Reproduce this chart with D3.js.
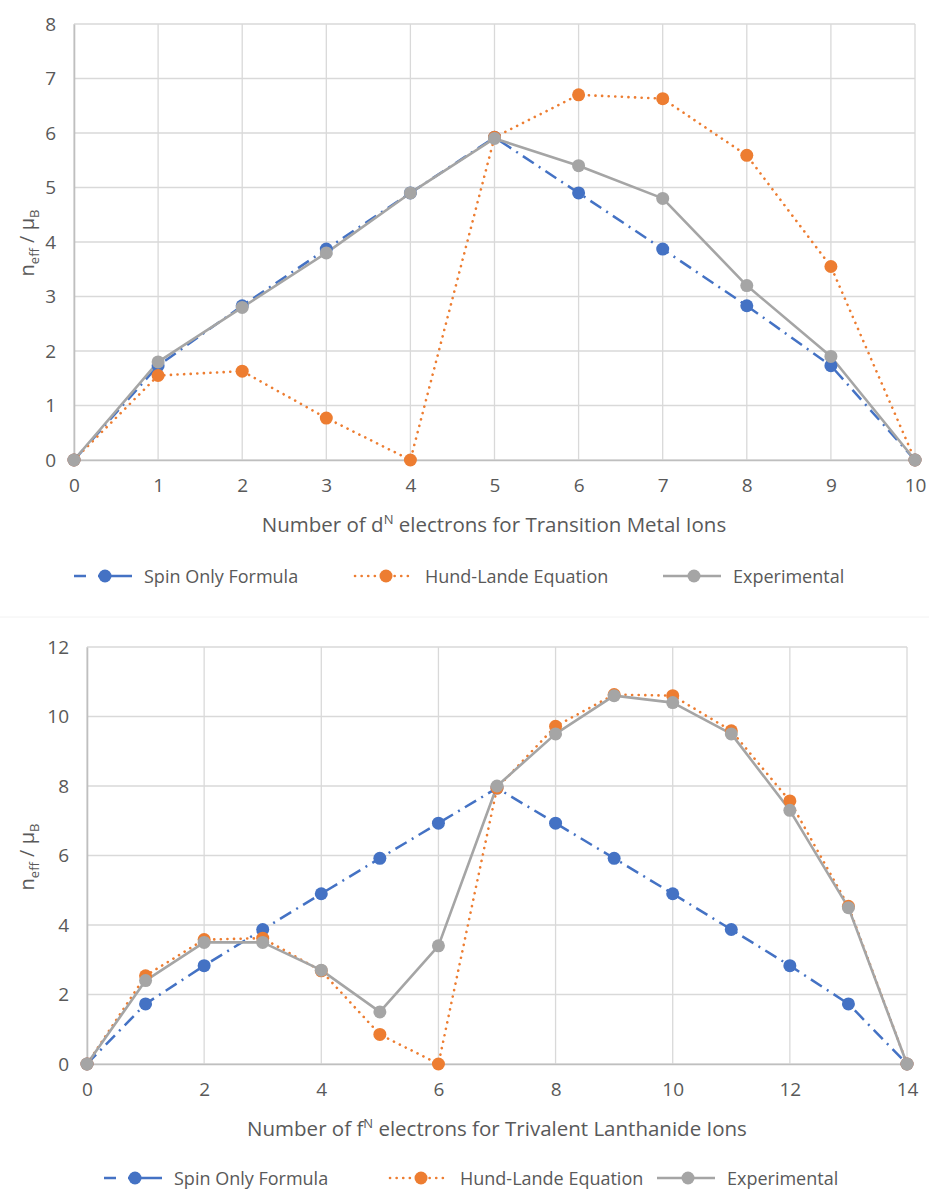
<!DOCTYPE html>
<html>
<head>
<meta charset="utf-8">
<script src="https://cdn.jsdelivr.net/npm/d3@7"></script>
<style>
  body { margin: 0; background: #fff; }
  svg { display: block; font-family: "Open Sans", "Liberation Sans", sans-serif; }
</style>
</head>
<body>
<svg id="chart" width="929" height="1191"></svg>
<script>
// ---- data ----
const dElectrons = d3.range(0, 11);
const dSpinOnly = [0, 1.73, 2.83, 3.87, 4.90, 5.92, 4.90, 3.87, 2.83, 1.73, 0];
const dHundLande = [0, 1.55, 1.63, 0.77, 0, 5.92, 6.70, 6.63, 5.59, 3.55, 0];
const dExperimental = [0, 1.8, 2.8, 3.8, 4.9, 5.9, 5.4, 4.8, 3.2, 1.9, 0];
const dXTicks = d3.range(0, 11);
const dYTicks = d3.range(0, 9);

const fElectrons = d3.range(0, 15);
const fSpinOnly = [0, 1.73, 2.83, 3.87, 4.90, 5.92, 6.93, 7.94, 6.93, 5.92, 4.90, 3.87, 2.83, 1.73, 0];
const fHundLande = [0, 2.54, 3.58, 3.62, 2.68, 0.85, 0, 7.94, 9.72, 10.63, 10.60, 9.59, 7.57, 4.54, 0];
const fExperimental = [0, 2.4, 3.5, 3.5, 2.7, 1.5, 3.4, 8.0, 9.5, 10.6, 10.4, 9.5, 7.3, 4.5, 0];
const fXTicks = d3.range(0, 15, 2);
const fYTicks = d3.range(0, 13, 2);

const seriesNames = ["Spin Only Formula", "Hund-Lande Equation", "Experimental"];

// styles per series
const styles = [
    { color: "#4472C4", dash: "13,6,2,6", cap: "butt", width: 2.5 },
    { color: "#ED7D31", dash: "0.1,6.5", cap: "round", width: 2.6 },
    { color: "#A5A5A5", dash: null, cap: "butt", width: 2.6 }
];

const svg = d3.select("#chart");

function drawChart(opts) {
    const g = svg.append("g").attr("class", "chart-wrapper");

    const x = d3.scaleLinear().domain(opts.xDomain).range([opts.left, opts.right]);
    const y = d3.scaleLinear().domain(opts.yDomain).range([opts.bottom, opts.top]);

    // gridlines
    g.append("g").attr("class", "y-grid")
        .selectAll("line").data(opts.yTicks).enter().append("line")
        .attr("x1", opts.left).attr("x2", opts.right)
        .attr("y1", d => y(d)).attr("y2", d => y(d))
        .attr("stroke", "#d9d9d9").attr("stroke-width", 1.3);
    g.append("g").attr("class", "x-grid")
        .selectAll("line").data(opts.xTicks).enter().append("line")
        .attr("y1", opts.top).attr("y2", opts.bottom)
        .attr("x1", d => x(d)).attr("x2", d => x(d))
        .attr("stroke", "#d9d9d9").attr("stroke-width", 1.3);

    // axes
    const xAxis = d3.axisBottom(x).tickValues(opts.xTicks).tickSize(0).tickPadding(19);
    const yAxis = d3.axisLeft(y).tickValues(opts.yTicks).tickSize(0).tickPadding(18);

    g.append("g").attr("class", "x-axis")
        .attr("transform", `translate(0,${opts.bottom})`)
        .call(xAxis);
    g.append("g").attr("class", "y-axis")
        .attr("transform", `translate(${opts.left},0)`)
        .call(yAxis);

    g.selectAll(".domain").attr("stroke", "#bfbfbf").attr("stroke-width", 1.6);
    g.selectAll(".x-axis text, .y-axis text")
        .attr("fill", "#595959")
        .style("font-size", "19px")
        .style("font-family", "\"Open Sans\", sans-serif");

    // lines
    const line = d3.line().x((d, i) => x(opts.xs[i])).y(d => y(d));
    opts.series.forEach((vals, si) => {
        const st = styles[si];
        g.append("path")
            .datum(vals)
            .attr("fill", "none")
            .attr("stroke", st.color)
            .attr("stroke-width", st.width)
            .attr("stroke-linecap", st.cap)
            .attr("stroke-linejoin", "round")
            .attr("stroke-dasharray", st.dash)
            .attr("d", line);
    });
    opts.series.forEach((vals, si) => {
        const st = styles[si];
        g.append("g").selectAll("circle").data(vals).enter().append("circle")
            .attr("cx", (d, i) => x(opts.xs[i]))
            .attr("cy", d => y(d))
            .attr("r", 6.5)
            .attr("fill", st.color);
    });

    // x title
    const xt = g.append("text")
        .attr("x", opts.xTitleX).attr("y", opts.xTitleY)
        .attr("text-anchor", "middle")
        .attr("fill", "#595959")
        .style("font-size", "20.5px");
    xt.append("tspan").text(opts.xTitle[0]);
    xt.append("tspan").attr("dy", -8).style("font-size", "13px").text("N");
    xt.append("tspan").attr("dy", 8).text(opts.xTitle[1]);

    // y title
    const yt = g.append("text")
        .attr("transform", `translate(${opts.yTitleX},${opts.yTitleY}) rotate(-90)`)
        .attr("text-anchor", "middle")
        .attr("fill", "#595959")
        .style("font-size", "20px");
    yt.append("tspan").text("n");
    yt.append("tspan").attr("dy", 5).style("font-size", "13px").text("eff");
    yt.append("tspan").attr("dy", -5).text(" / μ");
    yt.append("tspan").attr("dy", 5).style("font-size", "13px").text("B");

    // legend
    const leg = g.append("g").attr("class", "legend");
    seriesNames.forEach((name, si) => {
        const st = styles[si];
        const lx = opts.legendX[si];
        const ly = opts.legendY;
        leg.append("line")
            .attr("x1", lx).attr("x2", lx + 58)
            .attr("y1", ly).attr("y2", ly)
            .attr("stroke", st.color)
            .attr("stroke-width", st.width)
            .attr("stroke-linecap", st.cap)
            .attr("stroke-dasharray", si === 0 ? "12,12,34" : st.dash);
        leg.append("circle")
            .attr("cx", lx + 31).attr("cy", ly).attr("r", 6.5)
            .attr("fill", st.color);
        leg.append("text")
            .attr("x", lx + 70).attr("y", ly + 7)
            .attr("fill", "#595959")
            .style("font-size", "18px")
            .text(name);
    });
}

drawChart({
    xDomain: [0, 10], yDomain: [0, 8],
    left: 74, right: 915, top: 24, bottom: 460,
    xTicks: dXTicks, yTicks: dYTicks,
    xs: dElectrons,
    series: [dSpinOnly, dHundLande, dExperimental],
    xTitle: ["Number of d", " electrons for Transition Metal Ions"],
    xTitleX: 494, xTitleY: 532,
    yTitleX: 34, yTitleY: 243,
    legendX: [74, 355, 663], legendY: 576
});

// faint separator between the two charts
svg.append("line")
    .attr("x1", 0).attr("x2", 929).attr("y1", 617).attr("y2", 617)
    .attr("stroke", "#f2f2f2").attr("stroke-width", 1);

drawChart({
    xDomain: [0, 14], yDomain: [0, 12],
    left: 87, right: 907, top: 647, bottom: 1064,
    xTicks: fXTicks, yTicks: fYTicks,
    xs: fElectrons,
    series: [fSpinOnly, fHundLande, fExperimental],
    xTitle: ["Number of f", " electrons for Trivalent Lanthanide Ions"],
    xTitleX: 497, xTitleY: 1136,
    yTitleX: 34, yTitleY: 857,
    legendX: [104, 390, 657], legendY: 1178
});
</script>
</body>
</html>
